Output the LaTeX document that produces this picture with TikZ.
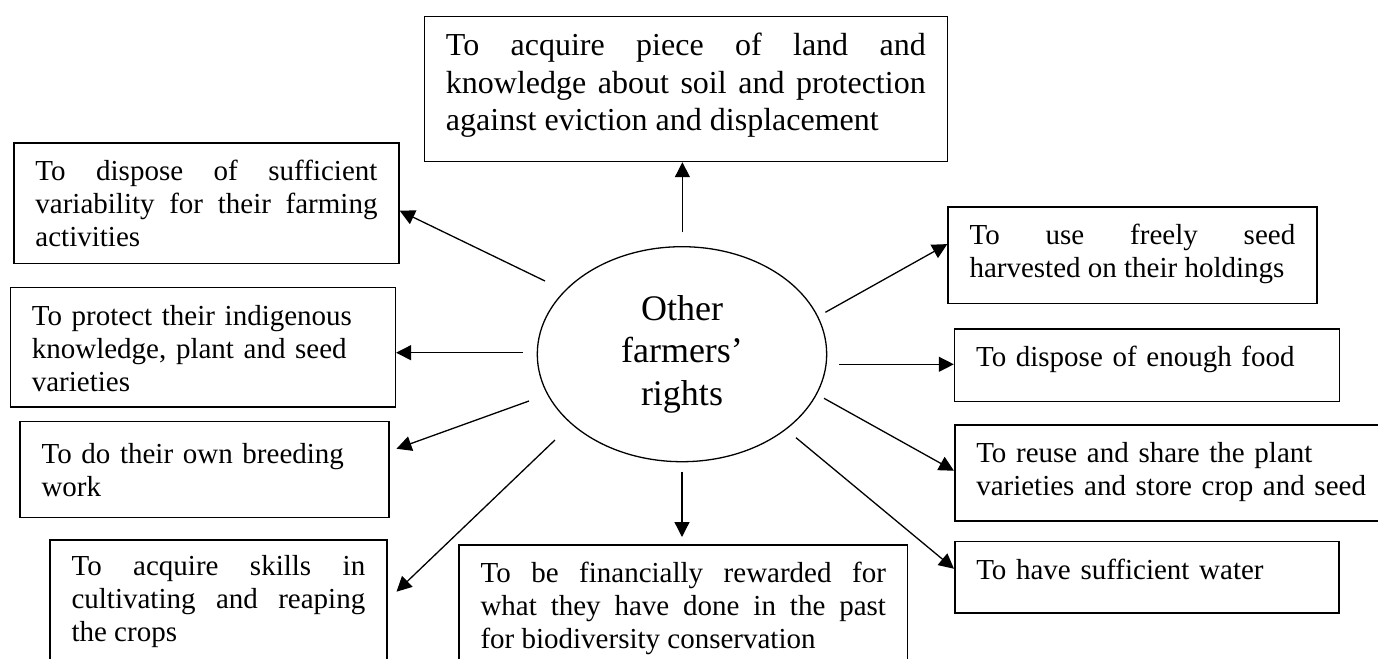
\documentclass[tikz,border=0pt]{standalone}
\usepackage{fontspec}
\setmainfont{Liberation Serif}
\usepackage{tikz}
\usetikzlibrary{arrows.meta,shapes}

\tikzset{
  rbox/.style={draw, line width=0.75pt, anchor=north west, inner xsep=10.75pt, inner ysep=0pt,
    font=\fontsize{14.5pt}{16.5pt}\selectfont,
    execute at begin node={\tolerance=10000\hyphenpenalty=10000\relax}},
  jbox/.style={rbox, align=justify},
  lbox/.style={rbox, align=left},
  link/.style={-{Triangle[length=7.5pt,width=7.5pt]}, line width=0.65pt}
}

\begin{document}
\begin{tikzpicture}[x=0.5pt,y=-0.5pt]
    \useasboundingbox (0,0) rectangle (1378,659);

    \node[ellipse, draw, line width=0.65pt, minimum width=144.7pt, minimum height=107.5pt,
      inner sep=0pt, align=center, font=\fontsize{18pt}{21.25pt}\selectfont]
      (c) at (682,354.2) {Other\\farmers'\\rights};

    \node[jbox, text width=239.9pt, text height=19.65pt, text depth=52.85pt,
      font=\fontsize{16pt}{18.75pt}\selectfont] (r1) at (423.7,15.7)
      {To acquire piece of land and\linebreak knowledge about soil and protection\linebreak against eviction and displacement};
    \node[jbox, text width=171pt, text height=19pt, text depth=41.35pt] (r2) at (13.2,142)
      {To dispose of sufficient\linebreak variability for their farming\linebreak activities};
    \node[lbox, text width=171pt, text height=19.15pt, text depth=40.5pt] (r3) at (9.6,286.7)
      {To protect their indigenous\\ knowledge, plant and seed\\ varieties};
    \node[lbox, text width=163pt, text height=21.15pt, text depth=26.85pt] (r4) at (19.3,420.7)
      {To do their own breeding\\ work};
    \node[jbox, text width=146.85pt, text height=18pt, text depth=52.5pt] (r5) at (49.3,539)
      {To acquire skills in\linebreak cultivating and reaping\linebreak the crops};
    \node[jbox, text width=202.7pt, text height=18.85pt, text depth=54pt] (r6) at (458.3,544)
      {To be financially rewarded for\linebreak what they have done in the past\linebreak for biodiversity conservation};
    \node[lbox, text width=170.65pt, text height=18.8pt, text depth=17pt] (r7) at (954,540.7)
      {To have sufficient water};
    \node[lbox, text width=198.5pt, text height=18.85pt, text depth=29.15pt] (r8) at (954,424)
      {To reuse and share the plant\\ varieties and store crop and seed};
    \node[lbox, text width=170.9pt, text height=18.85pt, text depth=17.35pt] (r9) at (953.8,328.3)
      {To dispose of enough food};
    \node[jbox, text width=162.85pt, text height=18.65pt, text depth=29.7pt] (r10) at (947.3,206)
      {To use freely seed\linebreak harvested on their holdings};

    \coordinate (s1) at (682.4,232.3);
    \coordinate (s2) at (545,281);
    \coordinate (s3) at (522.5,352.7);
    \coordinate (s4) at (529,401);
    \coordinate (s5) at (555,440);
    \coordinate (s6) at (682,471.7);
    \coordinate (s7) at (796,437.7);
    \coordinate (s8) at (824,398.3);
    \coordinate (s9) at (839.2,364.3);
    \coordinate (s10) at (825.4,312.3);

    \draw[link] (s1) -- (s1 |- r1.south);
    \draw[link] (s2) -- ([yshift=-3.8pt]r2.east);
    \draw[link] (s3) -- (s3 -| r3.east);
    \draw[link] (s4) -- ([xshift=3.35pt,yshift=10.35pt]r4.east);
    \draw[link] (s5) -- ([xshift=4.5pt,yshift=-26.35pt]r5.north east);
    \draw[link] (s6) -- ([yshift=3.5pt]s6 |- r6.north);
    \draw[link] (s7) -- ([yshift=4.25pt]r7.west);
    \draw[link] (s8) -- ([yshift=1pt]r8.west);
    \draw[link] (s9) -- (s9 -| r9.west);
    \draw[link] (s10) -- ([yshift=5.5pt]r10.west);
\end{tikzpicture}
\end{document}
